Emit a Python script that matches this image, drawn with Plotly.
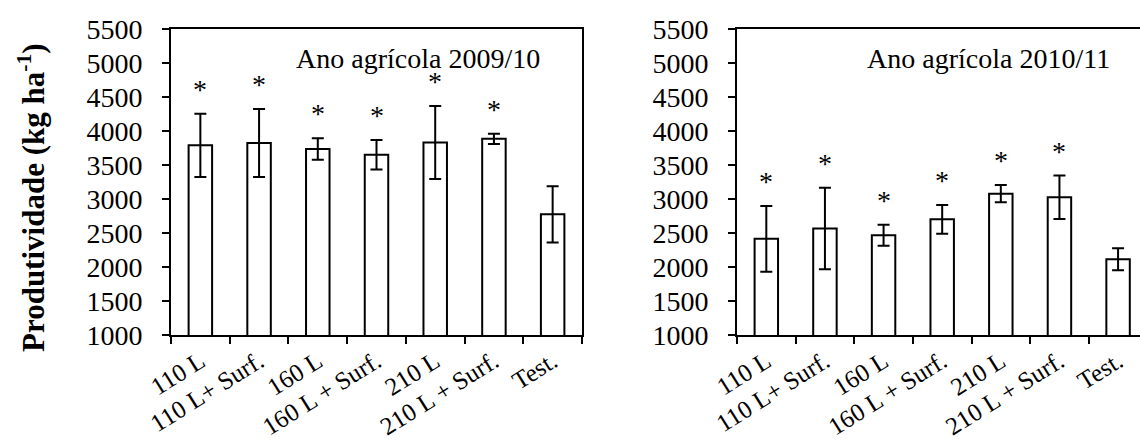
import plotly.graph_objects as go

categories = ["110 L", "110 L+ Surf.", "160 L", "160 L + Surf.", "210 L", "210 L + Surf.", "Test."]
yield_2009 = [3790, 3825, 3735, 3650, 3830, 3885, 2775]
err_2009 = [465, 500, 158, 218, 537, 75, 414]
yield_2010 = [2414, 2566, 2468, 2701, 3079, 3025, 2113]
err_2010 = [483, 600, 155, 211, 128, 319, 162]
significant = [True, True, True, True, True, True, False]
panel_titles = ["Ano agrícola 2009/10", "Ano agrícola 2010/11"]
y_title = "<b>Produtividade (kg ha<sup>-1</sup>)</b>"
y_ticks = [1000, 1500, 2000, 2500, 3000, 3500, 4000, 4500, 5000, 5500]

FONT = "Liberation Serif, Times New Roman, serif"
W, H = 1140, 445

fig = go.Figure()
for i, (vals, errs) in enumerate([(yield_2009, err_2009), (yield_2010, err_2010)]):
    ax = "" if i == 0 else "2"
    fig.add_trace(go.Bar(
        x=categories, y=vals, width=0.4,
        marker=dict(color="white", line=dict(color="black", width=2)),
        error_y=dict(type="data", array=errs, visible=True, color="black", thickness=2, width=6),
        xaxis="x" + ax, yaxis="y" + ax, showlegend=False,
    ))
    for c, v, e, s in zip(categories, vals, errs, significant):
        if s:
            fig.add_annotation(x=c, y=v + e, xref="x" + ax, yref="y" + ax, text="*",
                               showarrow=False, yanchor="bottom", yshift=7,
                               font=dict(family=FONT, size=28, color="black"))

line_common = dict(showline=True, linecolor="black", linewidth=2, ticks="outside",
                   ticklen=7, tickwidth=2, tickcolor="black", automargin=False)
xfont = dict(family=FONT, size=25, color="black")
yfont = dict(family=FONT, size=28, color="black")

fig.update_layout(
    width=W, height=H, plot_bgcolor="white", paper_bgcolor="white",
    margin=dict(l=0, r=0, t=29, b=110, autoexpand=False),
    xaxis=dict(domain=[171 / W, 582 / W], type="category", tickson="boundaries",
               tickangle=-32, range=[-0.5, 6.5], mirror=True, tickfont=xfont, **line_common),
    yaxis=dict(range=[1000, 5500], tickvals=y_ticks, ticklabelstandoff=14, mirror=True,
               tickfont=yfont, **line_common),
    xaxis2=dict(domain=[737 / W, 1.0], type="category", tickson="boundaries",
                tickangle=-32, range=[-0.5, 6.374], anchor="y2", mirror=True,
                tickfont=xfont, **line_common),
    yaxis2=dict(range=[1000, 5500], tickvals=y_ticks, anchor="x2", ticklabelstandoff=14,
                mirror=False, tickfont=yfont, **line_common),
)

fig.add_annotation(x=0.601, y=5500, xref="x domain", yref="y",
                   text=panel_titles[0], showarrow=False, yanchor="middle", yshift=-29,
                   font=dict(family=FONT, size=28, color="black"))
fig.add_annotation(x=0.624, y=5500, xref="x2 domain", yref="y2",
                   text=panel_titles[1], showarrow=False, yanchor="middle", yshift=-29,
                   font=dict(family=FONT, size=28, color="black"))
fig.add_annotation(x=31 / W, y=(H - 110 - 198) / (H - 139), xref="paper", yref="paper",
                   text=y_title, textangle=-90, showarrow=False,
                   xanchor="center", yanchor="middle",
                   font=dict(family=FONT, size=31, color="black"))

fig.write_html("out.html")
